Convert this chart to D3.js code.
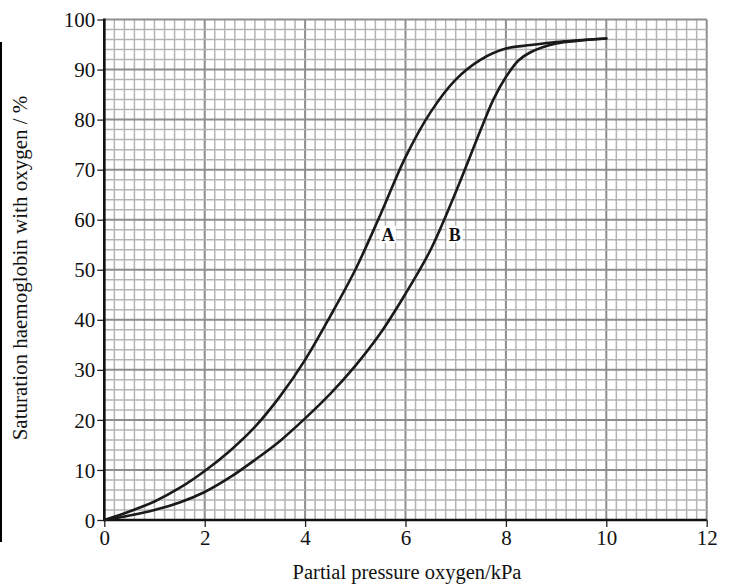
<!DOCTYPE html>
<html>
<head>
<meta charset="utf-8">
<script src="https://cdn.jsdelivr.net/npm/d3@7"></script>
<style>
  html, body { margin: 0; padding: 0; background: #fff; }
  svg { display: block; }
</style>
</head>
<body>
<svg id="chart" width="731" height="586"></svg>
<script>
// ---- data ----
const xTicks = [0, 2, 4, 6, 8, 10, 12];
const yTicks = [0, 10, 20, 30, 40, 50, 60, 70, 80, 90, 100];
const curveAx = [0, 0.5, 1, 1.5, 2, 2.5, 3, 3.5, 4, 4.5, 5, 5.5, 6, 6.5, 7, 7.5, 8, 8.5, 9, 10];
const curveAy = [0, 1.7, 3.7, 6.4, 9.8, 13.8, 18.6, 24.7, 32, 40.7, 50, 61, 72.5, 81.5, 88, 92, 94.2, 94.9, 95.5, 96.2];
const curveBx = [0, 0.5, 1, 1.5, 2, 2.5, 3, 3.5, 4, 4.5, 5, 5.5, 6, 6.5, 7, 7.5, 7.75, 8, 8.25, 8.5, 9, 9.5, 10];
const curveBy = [0, 0.9, 2, 3.5, 5.6, 8.5, 12, 15.8, 20.3, 25.2, 30.8, 37.3, 45.2, 54, 65.5, 78, 84, 88.5, 91.8, 93.5, 95.2, 95.8, 96.2];
const curveLabels = ["A", "B"];
const labelX = [5.65, 6.98];
const labelY = [57, 57];
const xTitle = "Partial pressure oxygen/kPa";
const yTitle = "Saturation haemoglobin with oxygen / %";

const svg = d3.select("#chart");
const x = d3.scaleLinear().domain([0, 12]).range([104.3, 706.7]);
const y = d3.scaleLinear().domain([0, 100]).range([520, 19.5]);
const FONT = "'Liberation Serif', 'Times New Roman', serif";

// left page border line
svg.append("line").attr("x1", 1).attr("x2", 1).attr("y1", 42).attr("y2", 542)
  .attr("stroke", "#000").attr("stroke-width", 2);

// grid
const grid = svg.append("g");
const minorX = d3.range(0, 12.0001, 0.2);
const minorY = d3.range(0, 100.0001, 2);
const isMajX = d => Math.abs(d / 2 - Math.round(d / 2)) < 1e-6;
const isMajY = d => Math.abs(d / 10 - Math.round(d / 10)) < 1e-6;
grid.selectAll(".vx").data(minorX).join("line")
  .attr("x1", d => x(d)).attr("x2", d => x(d))
  .attr("y1", y(0)).attr("y2", y(100))
  .attr("stroke", d => isMajX(d) ? "#8e8e8e" : "#b3b3b3")
  .attr("stroke-width", d => isMajX(d) ? 2 : 1.5);
grid.selectAll(".hy").data(minorY).join("line")
  .attr("y1", d => y(d)).attr("y2", d => y(d))
  .attr("x1", x(0)).attr("x2", x(12))
  .attr("stroke", d => isMajY(d) ? "#8e8e8e" : "#b3b3b3")
  .attr("stroke-width", d => isMajY(d) ? 2 : 1.5);

// axes
const xAxis = d3.axisBottom(x).tickValues(xTicks).tickSize(7).tickPadding(3).tickFormat(d3.format("d"));
const yAxis = d3.axisLeft(y).tickValues(yTicks).tickSize(7).tickPadding(2).tickFormat(d3.format("d"));
const gx = svg.append("g").attr("transform", `translate(0,${y(0)})`).call(xAxis);
const gy = svg.append("g").attr("transform", `translate(${x(0)},0)`).call(yAxis);
[gx, gy].forEach(g => {
  g.select(".domain").remove();
  g.selectAll(".tick line").attr("stroke", "#222").attr("stroke-width", 1.3);
  g.selectAll(".tick text").attr("fill", "#111").attr("font-family", FONT).attr("font-size", 21);
});
gy.selectAll(".tick text").attr("dy", "0.34em");
// axis lines
svg.append("line").attr("x1", x(0)).attr("x2", x(0)).attr("y1", y(100) - 1).attr("y2", y(0) + 1)
  .attr("stroke", "#111").attr("stroke-width", 2.6);
svg.append("line").attr("x1", x(0)).attr("x2", x(12)).attr("y1", y(0)).attr("y2", y(0))
  .attr("stroke", "#111").attr("stroke-width", 2.4);

// curves
const line = d3.line().x(d => x(d[0])).y(d => y(d[1])).curve(d3.curveCatmullRom.alpha(0.5));
const dataA = curveAx.map((v, i) => [v, curveAy[i]]);
const dataB = curveBx.map((v, i) => [v, curveBy[i]]);
[dataA, dataB].forEach(d => {
  svg.append("path").datum(d).attr("d", line)
    .attr("fill", "none").attr("stroke", "#1a1a1a").attr("stroke-width", 2.6)
    .attr("stroke-linejoin", "round").attr("stroke-linecap", "round");
});

// curve labels
curveLabels.forEach((t, i) => {
  const g = svg.append("g").attr("transform", `translate(${x(labelX[i])},${y(labelY[i])})`);
  g.append("rect").attr("x", -8).attr("y", -9).attr("width", 16).attr("height", 17).attr("fill", "#fff");
  g.append("text").text(t).attr("text-anchor", "middle").attr("dy", "0.35em")
    .attr("font-family", FONT).attr("font-weight", "bold").attr("font-size", 18).attr("fill", "#111");
});

// titles
svg.append("text").text(xTitle).attr("x", 407).attr("y", 579).attr("text-anchor", "middle")
  .attr("font-family", FONT).attr("font-size", 20.5).attr("fill", "#111");
svg.append("text").text(yTitle)
  .attr("transform", "translate(27,268) rotate(-90)")
  .attr("text-anchor", "middle")
  .attr("font-family", FONT).attr("font-size", 21).attr("fill", "#111");
</script>
</body>
</html>
